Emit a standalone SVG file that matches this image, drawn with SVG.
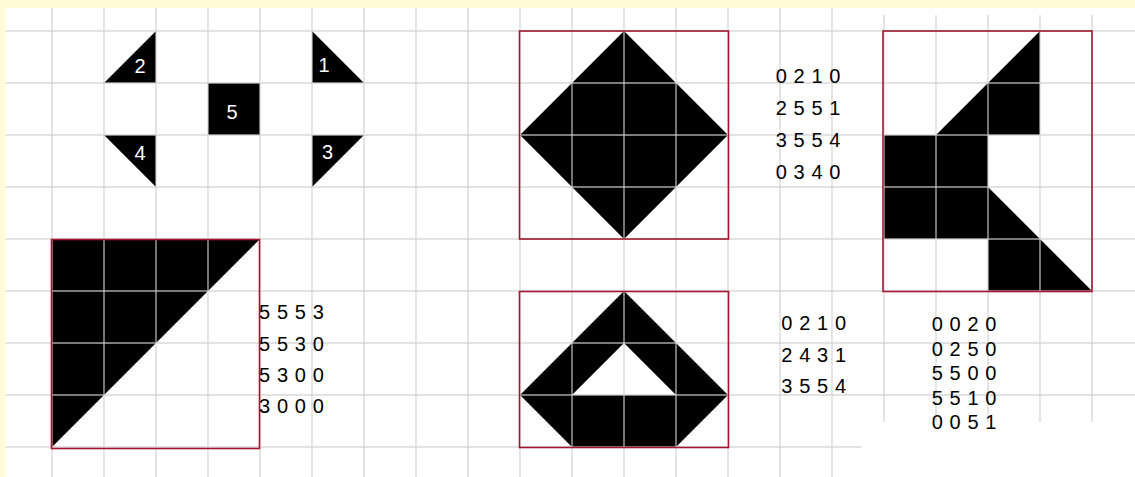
<svg xmlns="http://www.w3.org/2000/svg" width="1135" height="477" viewBox="0 0 1135 477">
<style>
.shape{fill:#000}
.grid line{stroke:#d0d0d0;stroke-opacity:0.8;stroke-width:1.4}
.frame{fill:none;stroke:#A0182E;stroke-width:1.6}
.num{font-family:"Liberation Sans",Arial,sans-serif;font-size:20px;letter-spacing:0.6px;fill:#000}
.lbl{font-family:"Liberation Sans",Arial,sans-serif;font-size:20px;fill:#fff;text-anchor:middle}
</style>
<rect x="0" y="0" width="1135" height="477" fill="#FFFAD7"/>
<rect x="6" y="8" width="1129" height="469" fill="#fff"/>

<g id="tiles">
  <polygon class="shape" points="156,31 156,83 104,83"/>
  <polygon class="shape" points="312,31 312,83 364,83"/>
  <rect class="shape" x="208" y="83" width="52" height="52"/>
  <polygon class="shape" points="104,135 156,135 156,187"/>
  <polygon class="shape" points="312,135 364,135 312,187"/>
</g>
<g id="fig-triangle">
  <polygon class="shape" points="52,239 260,239 52,447"/>
</g>
<g id="fig-diamond">
  <polygon class="shape" points="624,31 728,135 624,239 520,135"/>
</g>
<g id="fig-house">
  <path class="shape" fill-rule="evenodd" d="M624,291 L728,395 L676,447 L572,447 L520,395 Z M624,343 L572,395 L676,395 Z"/>
</g>
<g id="fig-right">
  <polygon class="shape" points="1040,31 1040,135 988,135 988,187 1092,291 988,291 988,239 884,239 884,135 936,135"/>
</g>

<g class="grid" id="grid">
  <line x1="52" y1="8" x2="52" y2="477"/>
  <line x1="104" y1="8" x2="104" y2="477"/>
  <line x1="156" y1="8" x2="156" y2="477"/>
  <line x1="208" y1="8" x2="208" y2="477"/>
  <line x1="260" y1="8" x2="260" y2="477"/>
  <line x1="312" y1="8" x2="312" y2="477"/>
  <line x1="364" y1="8" x2="364" y2="477"/>
  <line x1="416" y1="8" x2="416" y2="477"/>
  <line x1="468" y1="8" x2="468" y2="477"/>
  <line x1="520" y1="8" x2="520" y2="477"/>
  <line x1="572" y1="8" x2="572" y2="477"/>
  <line x1="624" y1="8" x2="624" y2="477"/>
  <line x1="676" y1="8" x2="676" y2="477"/>
  <line x1="728" y1="8" x2="728" y2="477"/>
  <line x1="780" y1="8" x2="780" y2="477"/>
  <line x1="832" y1="8" x2="832" y2="477"/>
  <line x1="884" y1="15" x2="884" y2="422"/>
  <line x1="936" y1="15" x2="936" y2="422"/>
  <line x1="988" y1="15" x2="988" y2="422"/>
  <line x1="1040" y1="15" x2="1040" y2="422"/>
  <line x1="1092" y1="15" x2="1092" y2="422"/>
  <line x1="6" y1="31" x2="1135" y2="31"/>
  <line x1="6" y1="83" x2="1135" y2="83"/>
  <line x1="6" y1="135" x2="1135" y2="135"/>
  <line x1="6" y1="187" x2="1135" y2="187"/>
  <line x1="6" y1="239" x2="1135" y2="239"/>
  <line x1="6" y1="291" x2="1135" y2="291"/>
  <line x1="6" y1="343" x2="1135" y2="343"/>
  <line x1="6" y1="395" x2="1135" y2="395"/>
  <line x1="6" y1="447" x2="862" y2="447"/>
</g>

<g id="frames">
  <rect class="frame" x="51.5" y="239.5" width="208" height="209"/>
  <rect class="frame" x="519.5" y="31" width="209" height="208"/>
  <rect class="frame" x="519.5" y="291.5" width="209" height="156"/>
  <rect class="frame" x="883" y="31" width="209" height="260.5"/>
</g>

<g id="tile-labels">
  <text class="lbl" x="140" y="73">2</text>
  <text class="lbl" x="324" y="72">1</text>
  <text class="lbl" x="232" y="118.5">5</text>
  <text class="lbl" x="140" y="159.5">4</text>
  <text class="lbl" x="327.5" y="158.5">3</text>
</g>

<g id="codes-triangle">
  <text class="num" x="259" y="319">5 5 5 3</text>
  <text class="num" x="259" y="350.5">5 5 3 0</text>
  <text class="num" x="259" y="381.5">5 3 0 0</text>
  <text class="num" x="259" y="413">3 0 0 0</text>
</g>
<g id="codes-diamond">
  <text class="num" x="775.7" y="82.5">0 2 1 0</text>
  <text class="num" x="775.7" y="114.5">2 5 5 1</text>
  <text class="num" x="775.7" y="146.5">3 5 5 4</text>
  <text class="num" x="775.7" y="178.5">0 3 4 0</text>
</g>
<g id="codes-house">
  <text class="num" x="781.3" y="330">0 2 1 0</text>
  <text class="num" x="781.3" y="361.5">2 4 3 1</text>
  <text class="num" x="781.3" y="392.5">3 5 5 4</text>
</g>
<g id="codes-right">
  <text class="num" x="931.7" y="330.5">0 0 2 0</text>
  <text class="num" x="931.7" y="355.5">0 2 5 0</text>
  <text class="num" x="931.7" y="380">5 5 0 0</text>
  <text class="num" x="931.7" y="404.5">5 5 1 0</text>
  <text class="num" x="931.7" y="429">0 0 5 1</text>
</g>
</svg>
